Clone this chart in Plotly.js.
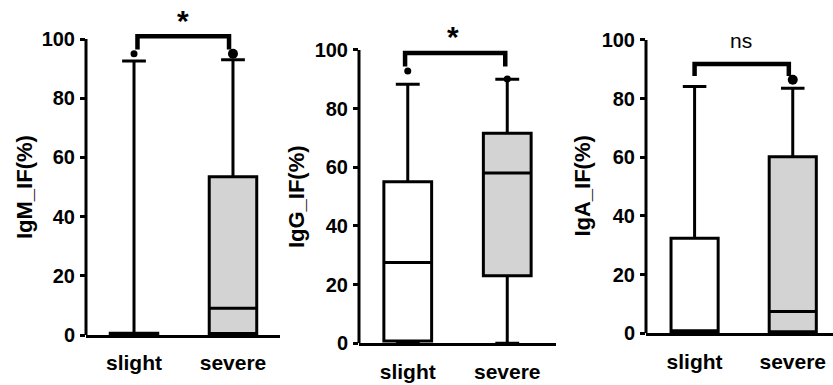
<!DOCTYPE html>
<html>
<head>
<meta charset="utf-8">
<script src="https://cdn.plot.ly/plotly-3.0.1.min.js"></script>
<style>html,body{margin:0;padding:0;background:#fff;}#chart{width:833px;height:385px;}</style>
</head>
<body>
<div id="chart"></div>
<script>
// ---- data ----
const groups = ['slight', 'severe'];
const yTicks = [0, 20, 40, 60, 80, 100];
const panelTitles = ['IgM_IF(%)', 'IgG_IF(%)', 'IgA_IF(%)'];
const sigLabels = ['*', '*', 'ns'];

const igmQ1 = [0, 0.5];
const igmMedian = [0.3, 9];
const igmQ3 = [0.6, 53.5];
const igmLower = [0, 0];
const igmUpper = [92.6, 93];
const igmOutliers = [95, 95];

const iggQ1 = [0.8, 23];
const iggMedian = [27.5, 58];
const iggQ3 = [55.1, 71.6];
const iggLower = [0, 0];
const iggUpper = [88.3, 90];
const iggOutliers = [92.8, 90.1];

const igaQ1 = [0.5, 0.5];
const igaMedian = [0.5, 7.4];
const igaQ3 = [32.4, 60.2];
const igaLower = [0, 0];
const igaUpper = [84.1, 83.5];
const igaOutliers = [null, 86.4];

// ---- styling / layout ----
const FONT = 'Liberation Sans, Arial, Helvetica, sans-serif';
const fills = ['#ffffff', '#d3d3d3'];
const outlierSizes = [[7, 10], [7, 7], [7, 10]];

const panels = [
  {q1: igmQ1, med: igmMedian, q3: igmQ3, lo: igmLower, hi: igmUpper, out: igmOutliers,
   xdom: [86/833, 280/833], xr: [-0.485, 1.475], ydom: [50/385, 380/385], yr: [0, 111.5],
   br: {y: 100.9, yl: 96.5, x0: 0.035, x1: 0.96}, sig: {x: 0.5, y: 100}},
  {q1: iggQ1, med: iggMedian, q3: iggQ3, lo: iggLower, hi: iggUpper, out: iggOutliers,
   xdom: [359/833, 556/833], xr: [-0.49, 1.49], ydom: [41.7/385, 380/385], yr: [0, 115.3],
   br: {y: 98.9, yl: 94.3, x0: -0.027, x1: 0.98}, sig: {x: 0.45, y: 98.3}},
  {q1: igaQ1, med: igaMedian, q3: igaQ3, lo: igaLower, hi: igaUpper, out: igaOutliers,
   xdom: [646/833, 1], xr: [-0.495, 1.41], ydom: [51.7/385, 380/385], yr: [0, 111.9],
   br: {y: 91.8, yl: 87.7, x0: 0.0, x1: 0.96}, sig: {x: 0.47, y: 95.2}}
];
const titleX = [24/833, 296.5/833, 583/833];

const traces = [];
const layout = {
  width: 833, height: 385,
  margin: {l: 0, r: 0, t: 0, b: 0},
  paper_bgcolor: '#fff', plot_bgcolor: '#fff',
  showlegend: false,
  boxmode: 'overlay',
  font: {family: FONT, color: '#000'},
  shapes: [], annotations: []
};

panels.forEach((p, i) => {
  const n = i === 0 ? '' : String(i + 1);
  const xa = 'x' + n, ya = 'y' + n;
  groups.forEach((g, j) => {
    traces.push({
      type: 'box', xaxis: xa, yaxis: ya,
      x: [g], q1: [p.q1[j]], median: [p.med[j]], q3: [p.q3[j]],
      lowerfence: [p.lo[j]], upperfence: [p.hi[j]],
      width: 0.48, whiskerwidth: 0.5, boxpoints: false,
      fillcolor: fills[j], line: {color: '#000', width: 3},
      hoverinfo: 'skip'
    });
  });
  const ox = [], oy = [], os = [];
  groups.forEach((g, j) => {
    if (p.out[j] !== null) { ox.push(g); oy.push(p.out[j]); os.push(outlierSizes[i][j]); }
  });
  traces.push({
    type: 'scatter', mode: 'markers', xaxis: xa, yaxis: ya,
    x: ox, y: oy, marker: {color: '#000', size: os, opacity: 1, line: {color: '#000', width: 0}},
    cliponaxis: false, hoverinfo: 'skip'
  });

  layout['xaxis' + n] = {
    domain: p.xdom, anchor: ya, type: 'category', categoryorder: 'array', categoryarray: groups,
    range: p.xr, showline: true, linewidth: 3, linecolor: '#000', ticks: '',
    showgrid: false, zeroline: false, fixedrange: true,
    tickfont: {family: FONT, size: 21, weight: 'bold', color: '#000'}, ticklabelstandoff: 7
  };
  layout['yaxis' + n] = {
    domain: p.ydom, anchor: xa, range: p.yr, showline: false, showgrid: false, zeroline: false,
    tickvals: yTicks, ticks: 'outside', ticklen: 5, tickwidth: 3, tickcolor: '#000',
    tickfont: {family: FONT, size: 20, weight: 'bold', color: '#000'}, ticklabelstandoff: 1,
    fixedrange: true
  };
  // y axis line from 0 to 100
  layout.shapes.push({type: 'line', xref: xa + ' domain', yref: ya, x0: 0, x1: 0,
    y0: yTicks[0], y1: yTicks[yTicks.length - 1], line: {color: '#000', width: 3}});
  // significance bracket
  layout.shapes.push({type: 'path', xref: xa, yref: ya,
    path: `M ${p.br.x0} ${p.br.yl} L ${p.br.x0} ${p.br.y} L ${p.br.x1} ${p.br.y} L ${p.br.x1} ${p.br.yl}`,
    line: {color: '#000', width: 4.5}});
  const isStar = sigLabels[i] === '*';
  layout.annotations.push({xref: xa, yref: ya, x: p.sig.x, y: p.sig.y, text: sigLabels[i],
    showarrow: false, xanchor: 'center', yanchor: 'bottom',
    font: {family: FONT, size: isStar ? 30 : 21, weight: isStar ? 'bold' : 'normal', color: '#000'}});
  layout.annotations.push({xref: 'paper', yref: ya, x: titleX[i], y: 50, text: panelTitles[i],
    textangle: -90, showarrow: false, xanchor: 'center', yanchor: 'middle',
    font: {family: FONT, size: 22, weight: 'bold', color: '#000'}});
});

Plotly.newPlot('chart', traces, layout, {displayModeBar: false, staticPlot: true});
</script>
</body>
</html>
